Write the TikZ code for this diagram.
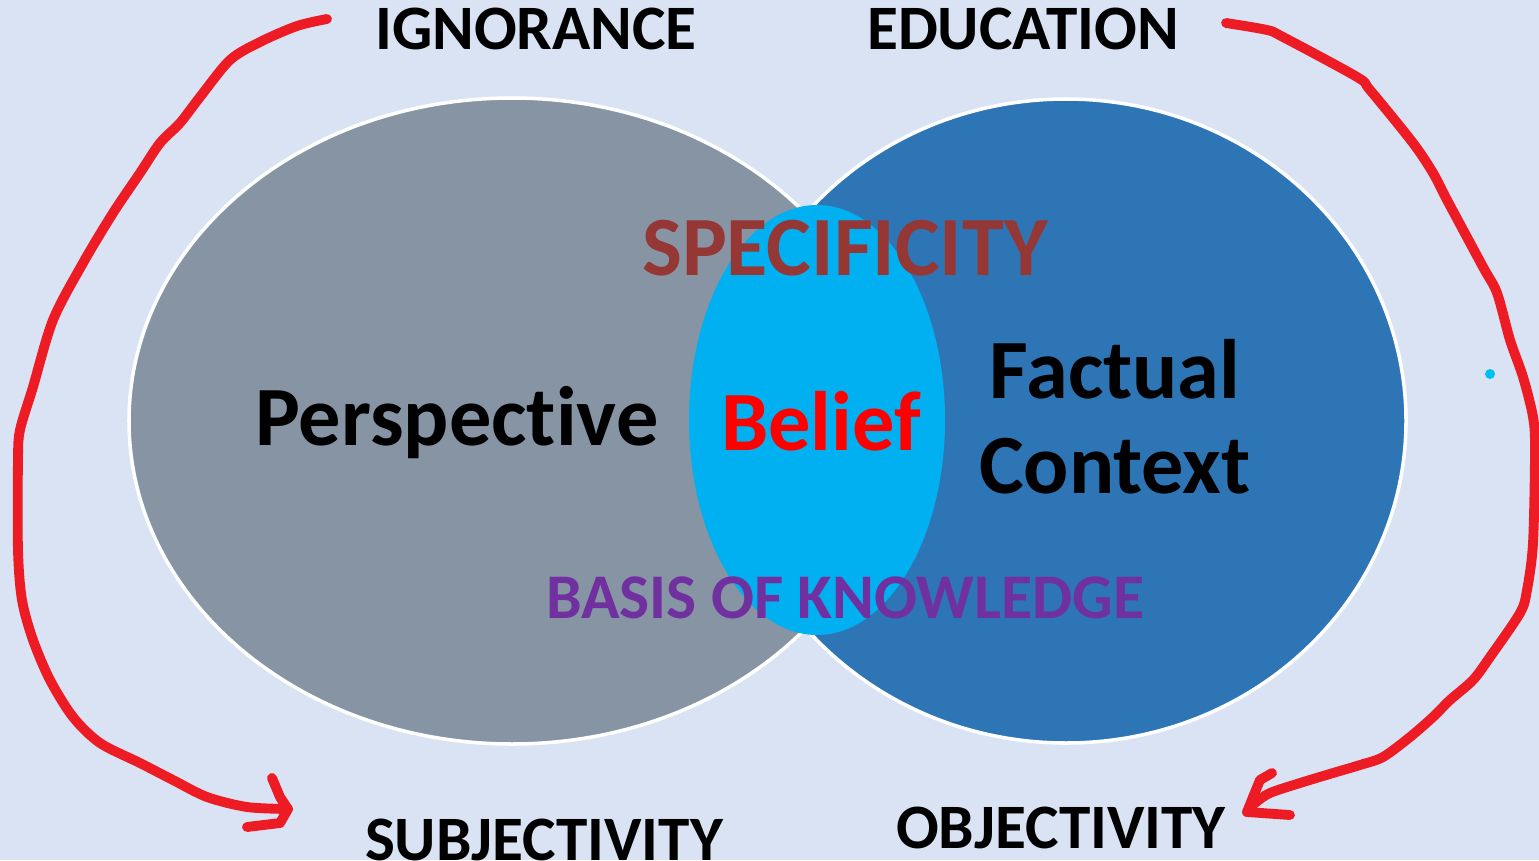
\documentclass[tikz,border=0pt]{standalone}
\usepackage{fontspec}
\setmainfont[Ligatures=NoCommon]{Carlito}
\usepackage{tikz}
\usetikzlibrary{positioning}
\usepackage{xcolor}
\definecolor{paleblue}{HTML}{DAE3F3}
\definecolor{slategray}{HTML}{8694A4}
\definecolor{steelblue}{HTML}{2E75B6}
\definecolor{lenscyan}{HTML}{00B0F0}
\definecolor{penred}{HTML}{ED1C24}
\definecolor{brickred}{HTML}{953735}
\definecolor{plum}{HTML}{7030A0}

\begin{document}
\begin{tikzpicture}[
  tag/.style={anchor=base,inner sep=0pt,font=\bfseries\fontsize{18}{18}\selectfont},
  big/.style={anchor=base,inner sep=0pt,font=\bfseries\fontsize{24}{24}\selectfont},
  freehand/.style={draw=penred,line width=2.8pt,line cap=round,line join=round}]
\useasboundingbox (0,0) rectangle (15.39,-8.60);
\fill[paleblue] (0,0) rectangle (15.39,-8.60);
\filldraw[fill=slategray,draw=white,line width=1pt] (5.12,-4.21) ellipse [x radius=3.83,y radius=3.23];
\filldraw[fill=steelblue,draw=white,line width=1pt] (10.66,-4.21) ellipse [x radius=3.40,y radius=3.22];
\fill[lenscyan] (8.17,-4.20) ellipse [x radius=1.28,y radius=2.15];
\node[tag] (ign) at (5.36,-0.50) {IGNORANCE};
\node[tag] (edu) at (10.23,-0.50) {EDUCATION};
\node[tag] (subj) at (5.44,-8.60) {SUBJECTIVITY};
\node[tag] (obj) at (10.61,-8.48) {OBJECTIVITY};
\node[big,text=brickred] (spec) at (8.45,-2.75) {SPECIFICITY};
\node[big] (persp) at (4.57,-4.45) {Perspective};
\node[big,text=red] (belief) at (8.21,-4.50) {Belief};
\node[big] (fact) at (11.15,-3.98) {Factual};
\node[big] (ctx) at (11.15,-4.93) {Context};
\node[tag,text=plum,font=\bfseries\fontsize{18.1}{18.1}\selectfont] (basis) at (8.45,-6.18) {BASIS OF KNOWLEDGE};
\fill[lenscyan!80!cyan] (14.90,-3.74) circle (0.05);
% hand drawn arrows
\coordinate (ignTail) at (3.27,-0.19);
\coordinate (subjTip) at (2.88,-8.09);
\draw[freehand] plot[smooth,tension=0.5] coordinates {(ignTail) (2.97,-0.26) (2.60,-0.42) (2.30,-0.60) (2.00,-0.97) (1.80,-1.23) (1.60,-1.43) (1.40,-1.73) (1.13,-2.13) (0.83,-2.63) (0.53,-3.20) (0.33,-3.87) (0.20,-4.30) (0.18,-4.60) (0.18,-5.50) (0.22,-6.00) (0.33,-6.40) (0.50,-6.80) (0.73,-7.17) (1.00,-7.43) (1.40,-7.63) (1.73,-7.80) (2.07,-7.97) (2.47,-8.07) (subjTip)};
\draw[freehand] (2.72,-7.78) -- (2.80,-7.97) -- (subjTip) -- (2.80,-8.23) -- (2.47,-8.27);
\coordinate (eduTail) at (12.26,-0.23);
\coordinate (objTip) at (12.47,-8.12);
\draw[freehand] plot[smooth,tension=0.5] coordinates {(eduTail) (12.67,-0.30) (12.83,-0.37) (13.57,-0.77) (13.70,-0.90) (14.13,-1.43) (14.33,-1.73) (14.47,-2.00) (14.83,-2.67) (14.97,-2.93) (15.10,-3.40) (15.23,-3.77) (15.33,-4.17) (15.35,-4.50) (15.33,-5.43) (15.27,-5.90) (15.20,-6.13) (14.90,-6.57) (14.73,-6.80) (14.50,-7.00) (14.33,-7.17) (14.10,-7.37) (13.83,-7.57) (13.60,-7.65) (13.33,-7.73) (13.00,-7.83) (12.70,-7.93) (12.55,-8.03) (objTip)};
\draw[freehand] (12.72,-7.73) -- (12.60,-7.80) -- (12.53,-7.97) -- (objTip) -- (12.90,-8.15);
\end{tikzpicture}
\end{document}
